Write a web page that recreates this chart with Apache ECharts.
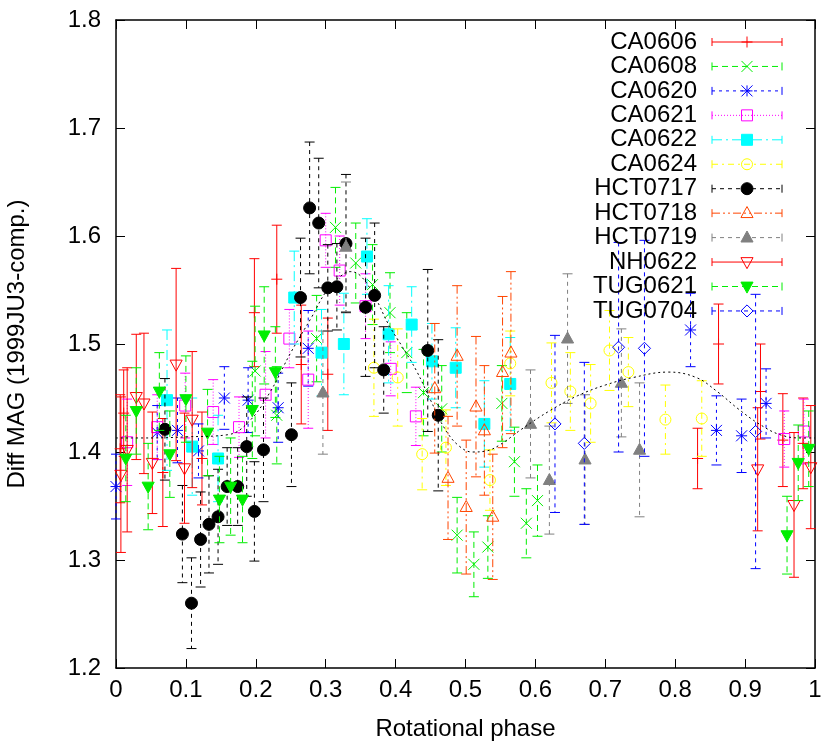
<!DOCTYPE html>
<html><head><meta charset="utf-8">
<script src="https://cdn.jsdelivr.net/npm/echarts@6/dist/echarts.min.js"></script>
<style>html,body{margin:0;padding:0;background:#fff}#c{width:830px;height:746px}</style>
</head><body><div id="c"></div>
<script>
// ---- data: [phase, diffMag, error] ----
const ca0606 = [[0.006,1.403,0.05],[0.011,1.436,0.04],[0.067,1.381,0.05],[0.123,1.394,0.043],[0.198,1.529,0.05],[0.230,1.560,0.05],[0.265,1.481,0.055],[0.303,1.472,0.052],[0.832,1.394,0.028],[0.862,1.500,0.037],[0.922,1.456,0.044],[0.954,1.411,0.043],[0.983,1.408,0.042]];
const ca0608 = [[0.199,1.475,0.06],[0.230,1.434,0.045],[0.287,1.505,0.04],[0.314,1.608,0.037],[0.343,1.575,0.037],[0.367,1.555,0.037],[0.392,1.529,0.037],[0.416,1.492,0.037],[0.440,1.455,0.04],[0.466,1.440,0.04],[0.488,1.323,0.035],[0.512,1.296,0.03],[0.532,1.312,0.029],[0.552,1.445,0.035],[0.570,1.391,0.032],[0.587,1.334,0.032],[0.603,1.355,0.033]];
const ca0620 = [[0.0,1.368,0.03],[0.059,1.418,0.025],[0.088,1.420,0.03],[0.118,1.401,0.025],[0.155,1.450,0.029],[0.189,1.448,0.03],[0.232,1.441,0.032],[0.275,1.496,0.035],[0.822,1.513,0.034],[0.859,1.420,0.032],[0.895,1.415,0.034],[0.930,1.445,0.032]];
const ca0621 = [[0.016,1.409,0.04],[0.059,1.423,0.03],[0.099,1.443,0.03],[0.139,1.437,0.03],[0.176,1.423,0.028],[0.214,1.453,0.04],[0.248,1.505,0.027],[0.275,1.467,0.045],[0.300,1.596,0.025],[0.320,1.568,0.032],[0.357,1.535,0.03],[0.393,1.477,0.025],[0.429,1.433,0.027],[0.956,1.412,0.026],[0.984,1.419,0.03]];
const ca0622 = [[0.073,1.448,0.065],[0.109,1.405,0.045],[0.146,1.394,0.04],[0.255,1.543,0.043],[0.294,1.492,0.04],[0.326,1.500,0.047],[0.359,1.581,0.035],[0.390,1.509,0.045],[0.423,1.518,0.035],[0.452,1.484,0.035],[0.486,1.478,0.037],[0.527,1.426,0.04],[0.564,1.463,0.043]];
const ca0624 = [[0.369,1.478,0.045],[0.403,1.469,0.045],[0.438,1.398,0.033],[0.472,1.404,0.035],[0.535,1.374,0.028],[0.564,1.482,0.03],[0.623,1.464,0.037],[0.650,1.456,0.036],[0.679,1.445,0.036],[0.706,1.494,0.037],[0.733,1.474,0.032],[0.786,1.430,0.032],[0.838,1.431,0.035]];
const hct0717 = [[0.070,1.421,0.047],[0.095,1.324,0.045],[0.108,1.260,0.042],[0.121,1.319,0.044],[0.133,1.333,0.045],[0.146,1.340,0.044],[0.159,1.368,0.036],[0.174,1.368,0.036],[0.187,1.405,0.046],[0.198,1.345,0.046],[0.211,1.402,0.048],[0.251,1.416,0.048],[0.264,1.543,0.055],[0.277,1.626,0.061],[0.290,1.612,0.06],[0.303,1.552,0.04],[0.316,1.553,0.04],[0.329,1.593,0.064],[0.357,1.534,0.064],[0.370,1.545,0.067],[0.383,1.476,0.04],[0.446,1.494,0.075],[0.461,1.434,0.07]];
const hct0718 = [[0.456,1.459,0.06],[0.475,1.376,0.057],[0.488,1.489,0.065],[0.501,1.349,0.062],[0.515,1.442,0.065],[0.527,1.420,0.06],[0.539,1.340,0.058],[0.553,1.474,0.07],[0.565,1.492,0.075]];
const hct0719 = [[0.296,1.455,0.057],[0.329,1.590,0.06],[0.593,1.426,0.05],[0.620,1.374,0.05],[0.646,1.505,0.06],[0.671,1.393,0.06],[0.723,1.464,0.05],[0.749,1.402,0.062]];
const nh0622 = [[0.007,1.379,0.072],[0.016,1.402,0.076],[0.029,1.451,0.058],[0.040,1.445,0.065],[0.052,1.390,0.047],[0.086,1.481,0.089],[0.098,1.385,0.051],[0.109,1.430,0.063],[0.918,1.384,0.057],[0.970,1.351,0.067],[0.994,1.386,0.057]];
const tug0621 = [[0.014,1.394,0.04],[0.029,1.438,0.04],[0.046,1.368,0.04],[0.062,1.456,0.036],[0.077,1.398,0.04],[0.100,1.449,0.04],[0.131,1.418,0.04],[0.148,1.356,0.04],[0.164,1.368,0.045],[0.181,1.356,0.04],[0.195,1.439,0.045],[0.212,1.508,0.045],[0.228,1.474,0.042],[0.960,1.323,0.036],[0.976,1.390,0.035],[0.991,1.403,0.035]];
const tug0704 = [[0.628,1.426,0.082],[0.670,1.408,0.075],[0.719,1.497,0.097],[0.756,1.496,0.1],[0.915,1.419,0.127]];
// fitted light curve
const fitCurve = [[0.0,1.413],[0.05,1.413],[0.10,1.414],[0.16,1.416],[0.19,1.428],[0.22,1.455],[0.25,1.492],[0.28,1.525],[0.30,1.548],[0.32,1.562],[0.335,1.567],[0.35,1.563],[0.37,1.544],[0.39,1.518],[0.41,1.497],[0.43,1.475],[0.45,1.448],[0.47,1.422],[0.49,1.406],[0.51,1.400],[0.53,1.401],[0.55,1.407],[0.58,1.421],[0.62,1.438],[0.66,1.452],[0.70,1.462],[0.74,1.469],[0.79,1.474],[0.83,1.469],[0.86,1.456],[0.89,1.440],[0.92,1.426],[0.95,1.416],[0.98,1.413],[1.0,1.413]];
const xTicks = [0,0.1,0.2,0.3,0.4,0.5,0.6,0.7,0.8,0.9,1];
const yTicks = [1.2,1.3,1.4,1.5,1.6,1.7,1.8];
const seriesNames = ['CA0606','CA0608','CA0620','CA0621','CA0622','CA0624','HCT0717','HCT0718','HCT0719','NH0622','TUG0621','TUG0704'];
const seriesData = [ca0606,ca0608,ca0620,ca0621,ca0622,ca0624,hct0717,hct0718,hct0719,nh0622,tug0621,tug0704];

// ---- styles ----
const styles = [
 {color:'#ff0000', dash:null, marker:'plus'},
 {color:'#00ee00', dash:[6,4], marker:'cross'},
 {color:'#0000ff', dash:[3,4], marker:'star'},
 {color:'#ff00ff', dash:[1,2], marker:'sqOpen'},
 {color:'#00ffff', dash:[10,4,2,4], marker:'sqFill'},
 {color:'#ffff00', dash:[6,4,2,4], marker:'circOpen'},
 {color:'#000000', dash:[4,4], marker:'circFill'},
 {color:'#ff4500', dash:[8,3,2,3,2,3], marker:'triUpOpen'},
 {color:'#808080', dash:[4,4], marker:'triUpFill'},
 {color:'#ff0000', dash:null, marker:'triDownOpen'},
 {color:'#00ee00', dash:[6,4], marker:'triDownFill'},
 {color:'#0000ff', dash:[4,4], marker:'diamOpen'}
];
const FONT = "'Liberation Sans', Arial, Helvetica, sans-serif";
const FS = 24;

function makeMarker(shape, cx, cy, color) {
  const s = 5.5;
  const ls = {stroke: color, lineWidth: 1, fill: 'none'};
  const fs = {fill: color, stroke: color, lineWidth: 1};
  const L = (x1,y1,x2,y2) => ({type:'line', shape:{x1,y1,x2,y2}, style:ls});
  const P = (pts, filled) => ({type:'polygon', shape:{points:pts}, style: filled ? fs : ls});
  switch (shape) {
    case 'plus': return [L(cx-s,cy,cx+s,cy), L(cx,cy-s,cx,cy+s)];
    case 'cross': return [L(cx-s,cy-s,cx+s,cy+s), L(cx-s,cy+s,cx+s,cy-s)];
    case 'star': return [L(cx-s,cy,cx+s,cy), L(cx,cy-s,cx,cy+s), L(cx-s,cy-s,cx+s,cy+s), L(cx-s,cy+s,cx+s,cy-s)];
    case 'sqOpen': return [{type:'rect', shape:{x:cx-s,y:cy-s,width:2*s,height:2*s}, style:ls}];
    case 'sqFill': return [{type:'rect', shape:{x:cx-s,y:cy-s,width:2*s,height:2*s}, style:fs}];
    case 'circOpen': return [{type:'circle', shape:{cx,cy,r:s}, style:ls}];
    case 'circFill': return [{type:'circle', shape:{cx,cy,r:s+0.5}, style:fs}];
    case 'triUpOpen': return [P([[cx,cy-s*1.2],[cx+s*1.1,cy+s*0.8],[cx-s*1.1,cy+s*0.8]], false)];
    case 'triUpFill': return [P([[cx,cy-s*1.2],[cx+s*1.1,cy+s*0.8],[cx-s*1.1,cy+s*0.8]], true)];
    case 'triDownOpen': return [P([[cx,cy+s*1.2],[cx+s*1.1,cy-s*0.8],[cx-s*1.1,cy-s*0.8]], false)];
    case 'triDownFill': return [P([[cx,cy+s*1.2],[cx+s*1.1,cy-s*0.8],[cx-s*1.1,cy-s*0.8]], true)];
    case 'diamOpen': return [P([[cx,cy-s*1.1],[cx+s*1.1,cy],[cx,cy+s*1.1],[cx-s*1.1,cy]], false)];
  }
  return [];
}

const series = seriesData.map((arr, i) => {
  const st = styles[i];
  return {
    type: 'custom', name: seriesNames[i], data: arr,
    encode: {x: 0, y: 1},
    z: 2 + i,
    renderItem: (params, api) => {
      const x = api.value(0), y = api.value(1), e = api.value(2);
      const p = api.coord([x, y]);
      const t = api.coord([x, y + e]);
      const b = api.coord([x, y - e]);
      const cw = 5;
      const ls = {stroke: st.color, lineWidth: 1, lineDash: st.dash, fill: 'none'};
      const cs = {stroke: st.color, lineWidth: 1, fill: 'none'};
      const children = [
        {type:'line', shape:{x1:p[0], y1:t[1], x2:p[0], y2:b[1]}, style: ls},
        {type:'line', shape:{x1:p[0]-cw, y1:t[1], x2:p[0]+cw, y2:t[1]}, style: cs},
        {type:'line', shape:{x1:p[0]-cw, y1:b[1], x2:p[0]+cw, y2:b[1]}, style: cs}
      ].concat(makeMarker(st.marker, p[0], p[1], st.color));
      return {type:'group', children};
    }
  };
});
series.push({
  type:'line', name:'fit', data: fitCurve, smooth: 0.4, showSymbol:false, z: 20,
  lineStyle:{color:'#000', width:1, type:[2,3]}
});

// legend drawn as graphics (gnuplot style key)
const legendEls = [];
seriesNames.forEach((nm, i) => {
  const st = styles[i];
  const y = 42 + 24.45 * i;
  legendEls.push({type:'text', x: 697, y: y, style:{text: nm, fill:'#000', font: FS + 'px ' + FONT, textAlign:'right', textVerticalAlign:'middle'}});
  legendEls.push({type:'line', shape:{x1:712, y1:y, x2:782, y2:y}, style:{stroke: st.color, lineWidth:1, lineDash: st.dash}});
  legendEls.push({type:'line', shape:{x1:712, y1:y-4, x2:712, y2:y+4}, style:{stroke: st.color, lineWidth:1}});
  legendEls.push({type:'line', shape:{x1:782, y1:y-4, x2:782, y2:y+4}, style:{stroke: st.color, lineWidth:1}});
  makeMarker(st.marker, 747, y, st.color).forEach(m => legendEls.push(m));
});

const xFmt = v => (Math.abs(v) < 1e-9 ? '0' : Math.abs(v - 1) < 1e-9 ? '1' : v.toFixed(1));
const lab = {fontSize: FS, color: '#000', fontFamily: FONT};
const option = {
  animation: false,
  backgroundColor: '#fff',
  grid: {left: 116, right: 15, top: 20, bottom: 78, show: false, outerBoundsMode: 'none'},
  xAxis: [
    {type:'value', min: xTicks[0], max: xTicks[xTicks.length-1], interval: 0.1, position:'bottom',
     name:'Rotational phase', nameLocation:'middle', nameGap: 49, nameTextStyle: lab,
     axisLine:{show:true, lineStyle:{color:'#000', width:1.5}}, axisTick:{inside:true, length:9, lineStyle:{color:'#000'}},
     axisLabel:{...lab, margin: 10, formatter: xFmt, showMinLabel:true, showMaxLabel:true, hideOverlap:false}, splitLine:{show:false}},
    {type:'value', min: xTicks[0], max: xTicks[xTicks.length-1], interval: 0.1, position:'top',
     axisLine:{show:true, onZero:false, lineStyle:{color:'#000', width:1.5}}, axisTick:{inside:true, length:9, lineStyle:{color:'#000'}},
     axisLabel:{show:false}, splitLine:{show:false}}
  ],
  yAxis: [
    {type:'value', min: yTicks[0], max: yTicks[yTicks.length-1], interval: 0.1, position:'left',
     name:'Diff MAG (1999JU3-comp.)', nameLocation:'middle', nameGap: 87, nameRotate: 90, nameTextStyle: lab,
     axisLine:{show:true, onZero:false, lineStyle:{color:'#000', width:1.5}}, axisTick:{inside:true, length:9, lineStyle:{color:'#000'}},
     axisLabel:{...lab, margin: 15, formatter: v => v.toFixed(1), showMinLabel:true, showMaxLabel:true, hideOverlap:false}, splitLine:{show:false}},
    {type:'value', min: yTicks[0], max: yTicks[yTicks.length-1], interval: 0.1, position:'right',
     axisLine:{show:true, onZero:false, lineStyle:{color:'#000', width:1.5}}, axisTick:{inside:true, length:9, lineStyle:{color:'#000'}},
     axisLabel:{show:false}, splitLine:{show:false}}
  ],
  series: series,
  graphic: {elements: legendEls.map(e => Object.assign({silent:true, z:100}, e))}
};
const chart = echarts.init(document.getElementById('c'), null, {renderer:'canvas'});
chart.setOption(option);
</script>
</body></html>
